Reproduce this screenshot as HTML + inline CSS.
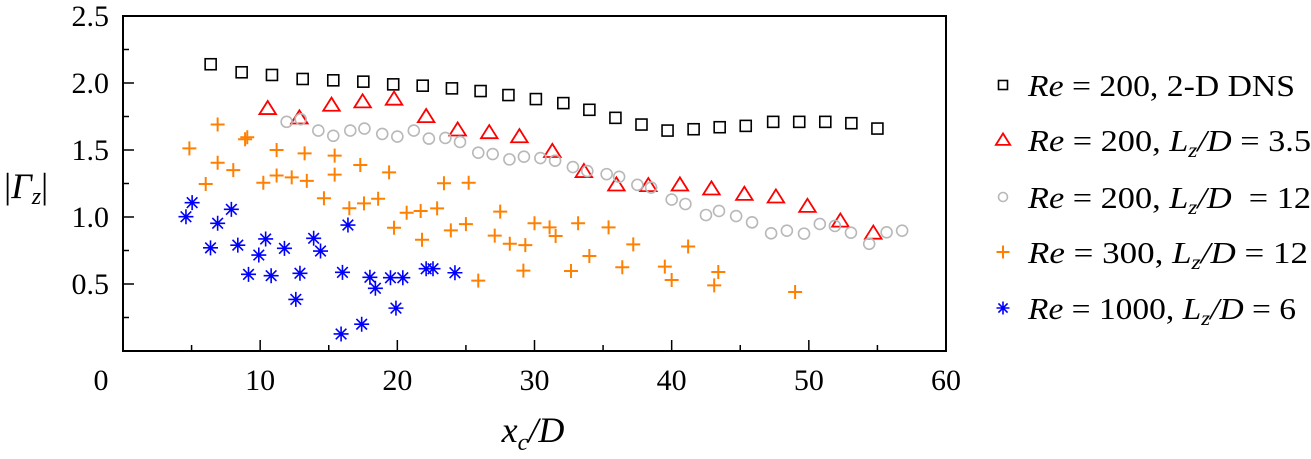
<!DOCTYPE html>
<html><head><meta charset="utf-8"><style>
body{margin:0;background:#fff;}
svg{display:block;}
svg text{font-family:"Liberation Serif","DejaVu Serif",serif;}
</style></head><body>
<svg id="chart" width="1311" height="459" viewBox="0 0 1311 459" xmlns="http://www.w3.org/2000/svg" font-family="Liberation Serif, serif">
<g id="plot"></g>
</svg>
<script>
const sqX=[6.39,8.65,10.86,13.1,15.33,17.52,19.7,21.85,23.98,26.07,28.1,30.1,32.1,34.0,35.9,37.8,39.7,41.6,43.5,45.4,47.4,49.3,51.2,53.1,55.0];
const sqY=[2.14,2.08,2.06,2.03,2.02,2.01,1.99,1.98,1.96,1.94,1.91,1.88,1.85,1.80,1.74,1.69,1.645,1.655,1.67,1.68,1.71,1.71,1.71,1.70,1.66];
const triX=[10.55,12.86,15.2,17.47,19.76,22.1,24.4,26.7,28.9,31.3,33.6,35.97,38.3,40.6,42.9,45.3,47.6,49.9,52.3,54.7];
const triY=[1.81,1.74,1.835,1.86,1.88,1.75,1.65,1.63,1.60,1.49,1.34,1.24,1.235,1.24,1.21,1.17,1.15,1.08,0.97,0.88];
const cirX=[11.93,12.95,14.24,15.33,16.57,17.6,18.9,20.0,21.2,22.3,23.5,24.57,25.9,26.95,28.17,29.23,30.43,31.5,32.8,33.85,35.26,36.17,37.5,38.5,40.0,41.0,42.5,43.45,44.7,45.86,47.25,48.4,49.65,50.8,51.9,53.07,54.4,55.67,56.8];
const cirY=[1.71,1.73,1.645,1.606,1.645,1.66,1.62,1.60,1.645,1.585,1.59,1.56,1.48,1.47,1.43,1.45,1.44,1.42,1.373,1.343,1.32,1.30,1.24,1.22,1.13,1.097,1.015,1.045,1.007,0.96,0.878,0.898,0.876,0.948,0.933,0.883,0.80,0.886,0.898];
const plX=[4.84,6.9,6.03,6.9,8.04,8.9,9.06,10.23,11.2,11.2,12.3,13.24,13.4,14.65,15.43,15.43,16.5,17.3,17.57,18.6,19.4,19.76,20.68,21.7,21.8,22.9,23.4,23.9,25.0,25.2,25.9,27.5,27.1,28.2,29.33,29.19,30.0,31.1,31.54,32.66,33.18,34.0,35.4,36.4,37.2,39.5,40.0,41.2,43.1,43.4,49.0];
const plY=[1.512,1.69,1.246,1.405,1.35,1.58,1.595,1.256,1.50,1.31,1.296,1.475,1.27,1.14,1.458,1.316,1.065,1.388,1.102,1.136,1.333,0.92,1.032,1.045,0.83,1.064,1.252,0.90,0.947,1.256,0.525,1.04,0.861,0.80,0.79,0.60,0.953,0.923,0.858,0.597,0.953,0.709,0.923,0.625,0.796,0.63,0.53,0.78,0.49,0.59,0.44];
const stX=[4.59,5.04,6.38,6.9,7.9,8.37,9.15,9.9,10.4,10.8,11.77,12.6,12.9,13.9,14.4,16.0,15.9,16.4,17.4,18.0,18.4,19.5,19.9,20.4,22.1,22.6,24.2];
const stY=[1.002,1.107,0.77,0.953,1.057,0.79,0.572,0.716,0.836,0.562,0.766,0.385,0.58,0.841,0.746,0.587,0.127,0.94,0.2,0.55,0.468,0.547,0.32,0.547,0.614,0.614,0.584];
const xTicks=[0,10,20,30,40,50,60];
const yTicks=[0.5,1.0,1.5,2.0,2.5];
const yTickLabels=["0.5","1.0","1.5","2.0","2.5"];

const L=123,R=946,T=16,B=351;
const sx=v=>L+(v/60)*(R-L);
const sy=v=>B-(v/2.5)*(B-T);
const NS="http://www.w3.org/2000/svg";
const g=document.getElementById('plot');
const SERIF='Liberation Serif, DejaVu Serif, serif';
function mk(tag,attrs,parent){const e=document.createElementNS(NS,tag);for(const k in attrs)e.setAttribute(k,attrs[k]);if(tag==='text')e.setAttribute('font-family',SERIF);(parent||g).appendChild(e);return e;}

const frame=mk('rect',{x:L,y:T,width:R-L,height:B-T,fill:'none',stroke:'#000','stroke-width':2});


for(let v=5;v<60;v+=5){const major=v%10===0;const t=mk('line',{x1:sx(v),x2:sx(v),y1:B,y2:B-(major?11:6),stroke:'#000','stroke-width':1.5});

}
for(let v=0.25;v<2.5;v+=0.25){const major=Math.abs(v*2-Math.round(v*2))<1e-6;const t=mk('line',{x1:L,x2:L+(major?11:6),y1:sy(v),y2:sy(v),stroke:'#000','stroke-width':1.5});

}
xTicks.forEach(v=>{const tx=mk('text',{x:v===0?101:sx(v),y:390,'font-size':30,'text-anchor':'middle'});tx.textContent=String(v);

});
yTicks.forEach((v,i)=>{const tx=mk('text',{x:109,y:sy(v)+10,'font-size':30,'text-anchor':'end'});tx.textContent=yTickLabels[i];

});

const xt=mk('text',{x:533,y:442,'font-size':36,'text-anchor':'middle','font-style':'italic'});
xt.innerHTML='x<tspan font-size="24" dy="8">c</tspan><tspan dy="-8">/D</tspan>';


const yt=mk('text',{x:4,y:198,'font-size':36});
yt.innerHTML='|<tspan font-style="italic">Γ</tspan><tspan font-style="italic" font-size="24" dy="6">z</tspan><tspan dy="-6">|</tspan>';



function square(cx,cy,p,s){return mk('rect',{x:cx-s,y:cy-s,width:2*s,height:2*s,fill:'none',stroke:'#000','stroke-width':1.6},p);}
function tri(cx,cy,p,s){return mk('polygon',{points:`${cx},${cy-s} ${cx-s*1.1},${cy+s*0.75} ${cx+s*1.1},${cy+s*0.75}`,fill:'none',stroke:'#ff0000','stroke-width':1.8},p);}
function circ(cx,cy,p,s){return mk('circle',{cx:cx,cy:cy,r:s,fill:'none',stroke:'#b8b8b8','stroke-width':1.6},p);}
function plus(cx,cy,p,s){return mk('path',{d:`M${cx-s},${cy}H${cx+s}M${cx},${cy-s}V${cy+s}`,stroke:'#ff8000','stroke-width':2,fill:'none'},p);}
function star(cx,cy,p,s){const d=s*0.707;return mk('path',{d:`M${cx-s},${cy}H${cx+s}M${cx},${cy-s}V${cy+s}M${cx-d},${cy-d}L${cx+d},${cy+d}M${cx-d},${cy+d}L${cx+d},${cy-d}`,stroke:'#0000ff','stroke-width':1.6,fill:'none'},p);}

function series(xs,ys,fn,name,s){const sg=mk('g',{});


xs.forEach((x,i)=>{const m=fn(sx(x),sy(ys[i]),sg,s);

});}
series(sqX,sqY,square,'series-re200-2d',5.5);
series(triX,triY,tri,'series-re200-lz3-5',7.5);
series(cirX,cirY,circ,'series-re200-lz12',5.5);
series(plX,plY,plus,'series-re300-lz12',7);
series(stX,stY,star,'series-re1000-lz6',7.5);

const leg=mk('g',{});


const legY=[85,140,197,252,308];
const legFns=[square,tri,circ,plus,star];
const legS=[4.5,6.5,4.5,6.5,6.5];
const legHtml=[
'<tspan font-style="italic">Re</tspan> = 200, 2-D DNS',
'<tspan font-style="italic">Re</tspan> = 200, <tspan font-style="italic">L</tspan><tspan font-style="italic" font-size="21" dy="6">z</tspan><tspan dy="-6" font-style="italic">/D</tspan> = 3.5',
'<tspan font-style="italic">Re</tspan> = 200, <tspan font-style="italic">L</tspan><tspan font-style="italic" font-size="21" dy="6">z</tspan><tspan dy="-6" font-style="italic">/D</tspan>  = 12',
'<tspan font-style="italic">Re</tspan> = 300, <tspan font-style="italic">L</tspan><tspan font-style="italic" font-size="21" dy="6">z</tspan><tspan dy="-6" font-style="italic">/D</tspan> = 12',
'<tspan font-style="italic">Re</tspan> = 1000, <tspan font-style="italic">L</tspan><tspan font-style="italic" font-size="21" dy="6">z</tspan><tspan dy="-6" font-style="italic">/D</tspan> = 6'];
legY.forEach((y,i)=>{const m=legFns[i](1003,y,leg,legS[i]);


const t=mk('text',{x:1028,y:y+11,'font-size':31,textLength:(i===0?267:(i===4?268:(i===3?280:283))),lengthAdjust:'spacingAndGlyphs'},leg);t.innerHTML=legHtml[i];t.style.whiteSpace='pre';

});
</script>
</body></html>
